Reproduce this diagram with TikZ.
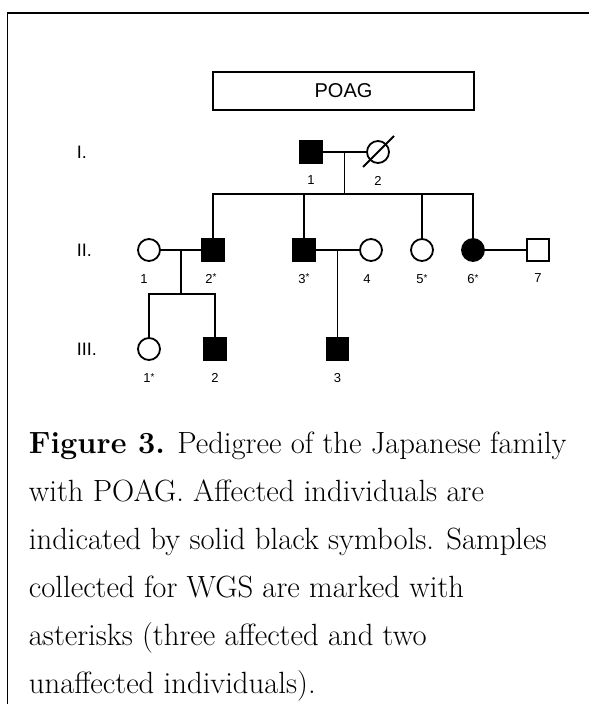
\documentclass[tikz,border=0pt]{standalone}
\usepackage{fontspec}
\newfontfamily\pedfont{Liberation Sans}
\usetikzlibrary{calc}
\usetikzlibrary{positioning}
\tikzstyle{malenode} = [draw, rectangle, minimum size=21.5pt, inner sep=0]
\tikzstyle{femalenode} = [draw, circle, minimum size=22pt, inner sep=0]
\tikzstyle{affected} = [fill=black]
\tikzstyle{idlabel} = [font=\pedfont\fontsize{13}{13}\selectfont, inner sep=0, node distance=11.5pt]
\tikzstyle{genlabel} = [font=\pedfont\fontsize{18}{18}\selectfont, anchor=west, inner sep=0]
\tikzstyle{titlebox} = [draw, minimum width=261pt, minimum height=38pt, font=\pedfont\fontsize{20}{20}\selectfont]
\tikzstyle{captext} = [anchor=north west, inner sep=0, align=left, font=\fontsize{30.7}{48}\selectfont]
\newcommand{\wgs}{\raisebox{2.6pt}{\fontsize{10}{10}\selectfont*}}

\begin{document}
\begin{tikzpicture}[x=1pt, y=1pt, line width=1.8pt]
    \useasboundingbox (0,0) rectangle (589,-704);
    \coordinate (frame_tl) at (7.5,-13);
    \coordinate (frame_tr) at (589,-13);
    \coordinate (frame_bl) at (7.5,-704);
    \draw[line width=1.3pt] (frame_tr) -- (frame_tl) -- (frame_bl);

    \node[titlebox] (poag) at (343.5,-91) {POAG};

    \node[genlabel] (gen_I) at (76,-152) {I.};
    \node[genlabel] (gen_II) at (76,-250) {II.};
    \node[genlabel] (gen_III) at (76,-349) {III.};

    \node[malenode, affected] (I_1) at (311,-152) {};
    \node[femalenode] (I_2) at ($(I_1)+(67,0)$) {};
    \draw (I_1) -- (I_2);
    \draw ($(I_2)+(-15,-15)$) -- ($(I_2)+(16,16)$);
    \node[idlabel, below=of I_1] (I_1_id) {1};
    \node[idlabel, below=of I_2] (I_2_id) {2};

    \node[femalenode] (II_1) at (149,-250) {};
    \node[malenode, affected] (II_2) at ($(II_1)+(64,0)$) {};
    \node[malenode, affected] (II_3) at ($(II_2)+(91,0)$) {};
    \node[femalenode] (II_4) at ($(II_3)+(67,0)$) {};
    \node[femalenode] (II_5) at ($(II_4)+(51,0)$) {};
    \node[femalenode, affected] (II_6) at ($(II_5)+(51,0)$) {};
    \node[malenode] (II_7) at ($(II_6)+(65,0)$) {};
    \node[idlabel, below=of II_1, xshift=-5pt] (II_1_id) {1};
    \node[idlabel, below=of II_2, xshift=-2pt] (II_2_id) {2\wgs};
    \node[idlabel, below=of II_3] (II_3_id) {3\wgs};
    \node[idlabel, below=of II_4, xshift=-4pt] (II_4_id) {4};
    \node[idlabel, below=of II_5] (II_5_id) {5\wgs};
    \node[idlabel, below=of II_6] (II_6_id) {6\wgs};
    \node[idlabel, below=of II_7] (II_7_id) {7};

    \coordinate (I_mid) at ($(I_1)!0.5!(I_2)$);
    \coordinate (I_sib) at ($(I_mid)+(0,-42)$);
    \draw (I_mid) -- (I_sib);
    \draw (II_2) |- (I_sib) -| (II_6);
    \draw (II_3) -- (II_3 |- I_sib);
    \draw (II_5) -- (II_5 |- I_sib);

    \draw (II_1) -- (II_2);
    \draw (II_3) -- (II_4);
    \draw (II_6) -- (II_7);

    \coordinate (II_a_mid) at ($(II_1)!0.5!(II_2)$);
    \coordinate (II_a_sib) at ($(II_a_mid)+(0,-44)$);
    \coordinate (II_b_mid) at ($(II_3)!0.5!(II_4)$);

    \node[femalenode] (III_1) at ($(II_1)+(0,-99)$) {};
    \node[malenode, affected] (III_2) at ($(III_1)+(66,0)$) {};
    \node[malenode, affected] (III_3) at ($(II_b_mid)+(0,-99)$) {};
    \node[idlabel, below=of III_1] (III_1_id) {1\wgs};
    \node[idlabel, below=of III_2] (III_2_id) {2};
    \node[idlabel, below=of III_3] (III_3_id) {3};

    \draw (II_a_mid) -- (II_a_sib);
    \draw (III_1) |- (II_a_sib) -| (III_2);
    \draw (II_b_mid) -- (III_3);

    \node[captext] (caption) at (28,-431) {\textbf{Figure 3.} Pedigree of the Japanese family\\
        with POAG. Affected individuals are\\
        indicated by solid black symbols. Samples\\
        collected for WGS are marked with\\
        asterisks (three affected and two\\
        unaffected individuals).};
\end{tikzpicture}
\end{document}
